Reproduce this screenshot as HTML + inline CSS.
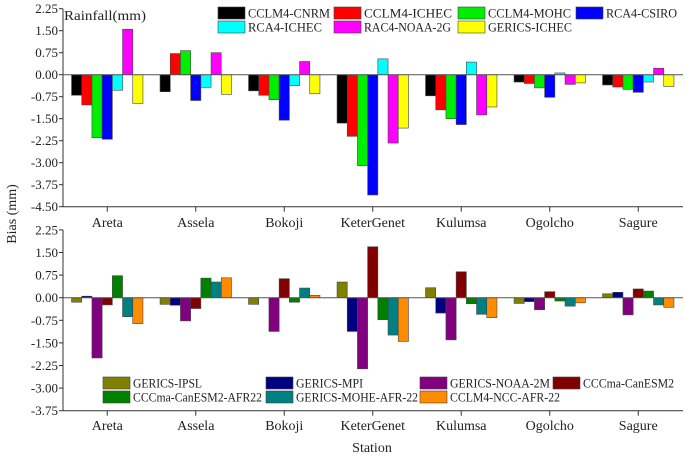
<!DOCTYPE html>
<html><head><meta charset="utf-8"><style>
body{margin:0;background:#fff}
text{font-family:"Liberation Serif","DejaVu Serif",serif;fill:#222}
</style></head><body>
<svg id="c" width="685" height="457"></svg>
<script>
const stations=["Areta","Assela","Bokoji","KeterGenet","Kulumsa","Ogolcho","Sagure"];
const topSeries=["CCLM4-CNRM","CCLM4-ICHEC","CCLM4-MOHC","RCA4-CSIRO","RCA4-ICHEC","RAC4-NOAA-2G","GERICS-ICHEC"];
const topColors=["#000000","#ff0000","#00ee00","#0000ff","#00ffff","#ff00ff","#ffff00"];
const topCNRM=[-0.7,-0.58,-0.55,-1.65,-0.72,-0.25,-0.35];
const topICHEC=[-1.03,0.72,-0.7,-2.1,-1.2,-0.3,-0.42];
const topMOHC=[-2.15,0.82,-0.85,-3.1,-1.5,-0.45,-0.5];
const topCSIRO=[-2.2,-0.88,-1.55,-4.1,-1.7,-0.77,-0.6];
const topRCA4ICHEC=[-0.53,-0.43,-0.37,0.54,0.43,0.06,-0.25];
const topNOAA=[1.55,0.75,0.45,-2.33,-1.37,-0.33,0.22];
const topGERICS=[-0.98,-0.67,-0.65,-1.82,-1.1,-0.28,-0.4];
const topValues=[topCNRM,topICHEC,topMOHC,topCSIRO,topRCA4ICHEC,topNOAA,topGERICS];
const topTicks=["2.25","1.50","0.75","0.00","-0.75","-1.50","-2.25","-3.00","-3.75","-4.50"];
const botSeries=["GERICS-IPSL","GERICS-MPI","GERICS-NOAA-2M","CCCma-CanESM2","CCCma-CanESM2-AFR22","GERICS-MOHE-AFR-22","CCLM4-NCC-AFR-22"];
const botColors=["#808000","#000080","#800080","#800000","#008000","#008080","#ff8c00"];
const botIPSL=[-0.15,-0.22,-0.22,0.52,0.33,-0.19,0.13];
const botMPI=[0.05,-0.25,0,-1.12,-0.51,-0.13,0.18];
const botNOAA=[-2.0,-0.77,-1.12,-2.36,-1.4,-0.4,-0.57];
const botCanESM2=[-0.24,-0.36,0.63,1.69,0.86,0.2,0.29];
const botAFR22=[0.73,0.65,-0.15,-0.73,-0.2,-0.11,0.22];
const botMOHE=[-0.63,0.52,0.32,-1.24,-0.55,-0.28,-0.24];
const botNCC=[-0.86,0.66,0.08,-1.45,-0.66,-0.17,-0.32];
const botValues=[botIPSL,botMPI,botNOAA,botCanESM2,botAFR22,botMOHE,botNCC];
const botTicks=["2.25","1.50","0.75","0.00","-0.75","-1.50","-2.25","-3.00","-3.75"];

const svg=document.getElementById('c');
const NS="http://www.w3.org/2000/svg";
const FF="Liberation Serif, serif";
function mk(t,a,p){const e=document.createElementNS(NS,t);for(const k in a)e.setAttribute(k,a[k]);if(t==='text')e.setAttribute('font-family',FF);(p||svg).appendChild(e);return e;}
const x0=63,bandW=88.5,barW=10.2;
function xc(i){return x0+bandW*(i+0.5);}

function panel(name,yZero,step,values,colors,ticks,series,bottomY){
  const g=mk('g',{});
  
  
  const ppu=step/0.75;
  const y=v=>yZero-v*ppu;
  values.forEach((arr,s)=>{
    arr.forEach((v,i)=>{
      if(v===0)return;
      const x=xc(i)-3.5*barW+s*barW;
      const r=mk('rect',{x:x,y:Math.min(y(v),yZero),width:barW,height:Math.abs(y(v)-yZero),fill:colors[s],stroke:'#444','stroke-width':0.6},g);
      
      
    });
  });
  mk('line',{x1:x0,x2:683,y1:yZero,y2:yZero,stroke:'#555','stroke-width':1},g);
  const ya=mk('line',{x1:x0,x2:x0,y1:y(2.25),y2:bottomY,stroke:'#333','stroke-width':1},g);
  
  
  mk('line',{x1:x0,x2:683,y1:bottomY,y2:bottomY,stroke:'#333','stroke-width':1},g);
  ticks.forEach(t=>{
    const v=parseFloat(t);
    mk('line',{x1:x0-4,x2:x0,y1:y(v),y2:y(v),stroke:'#333'},g);
    const tx=mk('text',{x:x0-5,y:y(v)+4.5,'text-anchor':'end','font-size':13},g);
    tx.textContent=t;
    
    
  });
  stations.forEach((s,i)=>{
    mk('line',{x1:xc(i),x2:xc(i),y1:bottomY,y2:bottomY+5,stroke:'#333'},g);
  });
  return y;
}
panel('top-panel',74.7,22.0,topValues,topColors,topTicks,topSeries,206.7);
panel('bottom-panel',297.7,22.6,botValues,botColors,botTicks,botSeries,410.7);

function catLabels(yy,nm){
  stations.forEach((s,i)=>{
    const t=mk('text',{x:xc(i),y:yy,'text-anchor':'middle','font-size':14});
    t.textContent=s;
    
    
  });
}
catLabels(227,'top-category-label');
catLabels(430,'bottom-category-label');

function legend(items,colors,pos,widths,nm){
  items.forEach((s,i)=>{
    const p=pos[i];
    const r=mk('rect',{x:p[0],y:p[1],width:27,height:12,fill:colors[i],stroke:'#444','stroke-width':0.6});
    
    
    const t=mk('text',{x:p[0]+30,y:p[1]+10.5,'font-size':12.5,textLength:widths[i],lengthAdjust:'spacingAndGlyphs'});
    t.textContent=s;
    
    
  });
}
legend(topSeries,topColors,[[218,7],[334,7],[458,7],[576,7],[218,21],[334,21],[458,21]],[82,88,83,71,74,87,84],'top-legend-entry');
legend(botSeries,botColors,[[103,377],[266,377],[420,377],[553,377],[103,391],[266,391],[420,391]],[69,67,100,91,129,122,110],'bottom-legend-entry');

let t=mk('text',{x:64,y:20,'font-size':13.5,textLength:82,lengthAdjust:'spacingAndGlyphs'});t.textContent="Rainfall(mm)";


t=mk('text',{x:372,y:452,'text-anchor':'middle','font-size':14});t.textContent="Station";


t=mk('text',{x:0,y:0,'text-anchor':'middle','font-size':14,transform:'translate(16,214) rotate(-90)'});t.textContent="Bias (mm)";


</script>
</body></html>
